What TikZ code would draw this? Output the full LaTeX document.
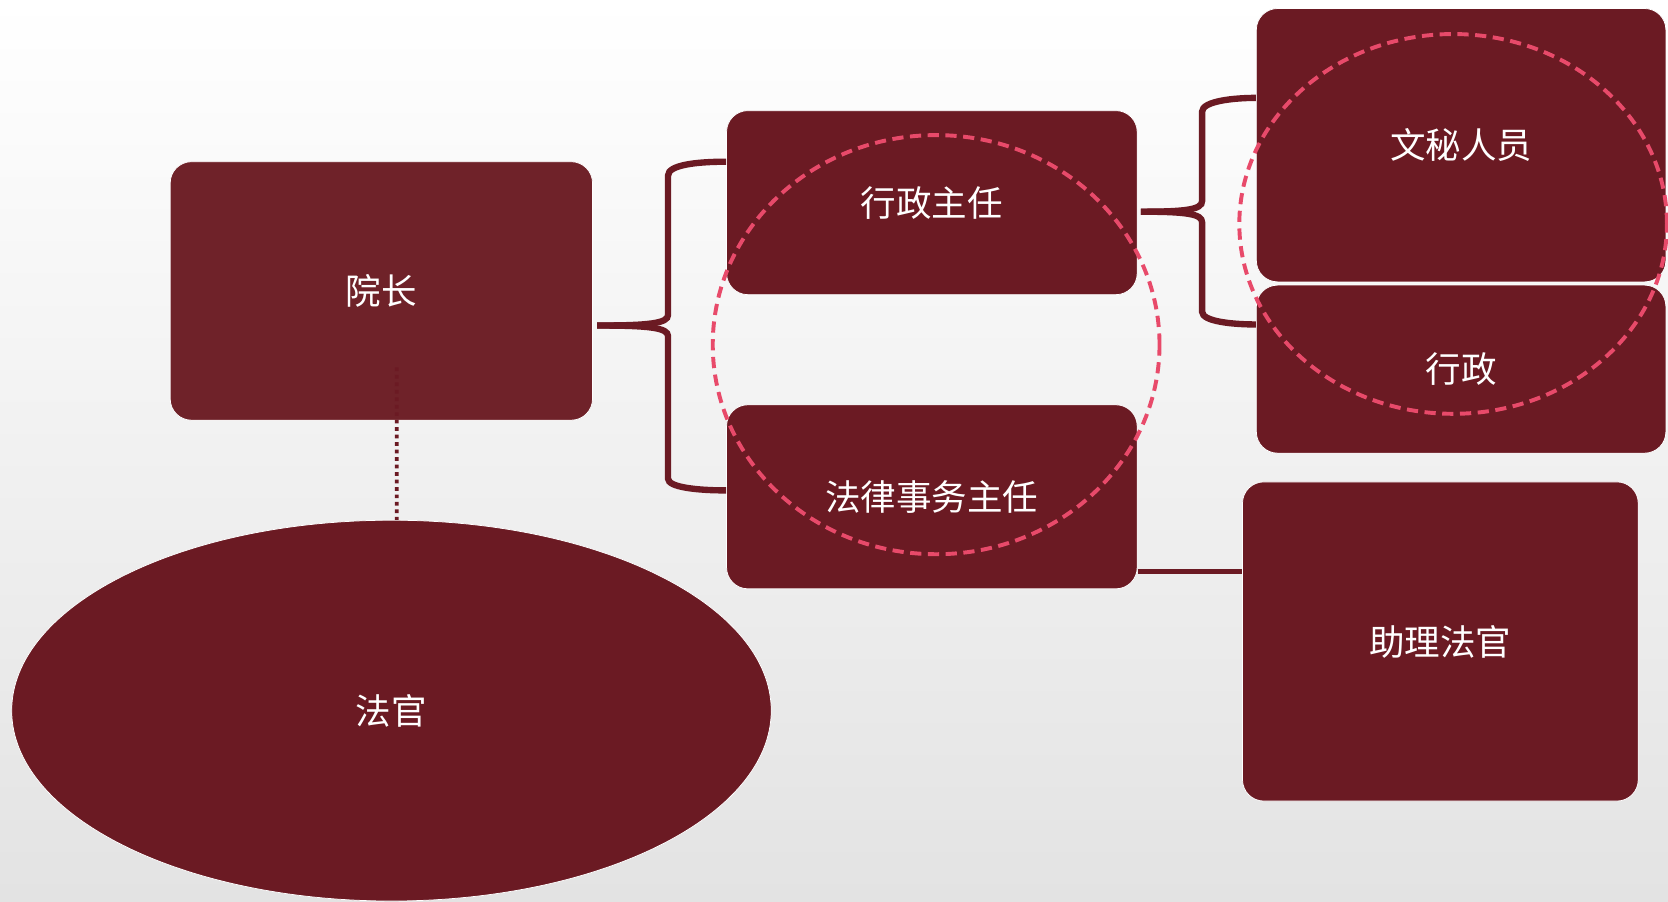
\documentclass[tikz,border=0pt]{standalone}
\usepackage{fontspec}
\newfontfamily\cjk{Noto Sans CJK SC}
\usetikzlibrary{shapes.geometric}
\definecolor{headred}{RGB}{111,34,41}
\definecolor{boxred}{RGB}{107,26,35}
\definecolor{ringpink}{RGB}{232,74,106}
\begin{document}
\begin{tikzpicture}[font=\cjk\fontsize{19}{23}\selectfont,
		box/.style={rectangle, rounded corners=0.4cm, draw=white, fill=boxred, text=white, align=center, inner sep=0pt},
		brace/.style={draw=boxred, line width=3.4pt},
		ring/.style={draw=ringpink, line width=2.1pt, dash pattern=on 6pt off 3.5pt}]
		% background
		\shade[top color=white, middle color=black!2, bottom color=black!11] (0,0) rectangle (31.36,-16.94);
		\useasboundingbox (0,0) rectangle (31.36,-16.94);
		\node[box, fill=headred, minimum width=7.94cm, minimum height=4.86cm] (yz) at (7.17,-5.47) {院长};
		\node[box, minimum width=7.72cm, minimum height=3.46cm] (xz) at (17.52,-3.81) {行政主任};
		\node[box, minimum width=7.72cm, minimum height=3.46cm] (fl) at (17.52,-9.34) {法律事务主任};
		\node[box, minimum width=7.70cm, minimum height=5.14cm] (wm) at (27.47,-2.73) {文秘人员};
		\node[box, minimum width=7.70cm, minimum height=3.16cm] (xzb) at (27.47,-6.94) {行政};
		\node[box, minimum width=7.44cm, minimum height=6.0cm] (zl) at (27.08,-12.06) {助理法官};
		\node[ellipse, draw=white, fill=boxred, text=white, inner sep=0pt, minimum width=14.28cm, minimum height=7.16cm] (fg) at (7.36,-13.36) {法官};
		% braces
		\draw[brace] ([xshift=0.08cm,yshift=-0.65cm]yz.east) .. controls (12.2,-6.12) and (12.56,-6.08) .. (12.56,-5.92) -- (12.56,-3.3) .. controls (12.56,-3.1) and (13.1,-3.04) .. ([yshift=0.77cm]xz.west);
		\draw[brace] ([xshift=0.08cm,yshift=-0.65cm]yz.east) .. controls (12.2,-6.12) and (12.56,-6.16) .. (12.56,-6.32) -- (12.56,-9.0) .. controls (12.56,-9.16) and (13.1,-9.22) .. ([yshift=0.12cm]fl.west);
		\draw[brace] ([xshift=0.06cm,yshift=-0.17cm]xz.east) .. controls (22.3,-3.98) and (22.6,-3.94) .. (22.6,-3.78) -- (22.6,-2.1) .. controls (22.6,-1.9) and (23.2,-1.84) .. ([yshift=0.89cm]wm.west);
		\draw[brace] ([xshift=0.06cm,yshift=-0.17cm]xz.east) .. controls (22.3,-3.98) and (22.6,-4.02) .. (22.6,-4.18) -- (22.6,-5.86) .. controls (22.6,-6.05) and (23.2,-6.1) .. ([yshift=0.84cm]xzb.west);
		% links
		\draw[boxred, line width=2pt, dash pattern=on 2pt off 2pt] ([xshift=0.29cm,yshift=1cm]yz.south) -- ([xshift=0.1cm]fg.north);
		\coordinate (fl-out) at ([yshift=-1.4cm]fl.east);
		\draw[boxred, line width=2.8pt] (fl-out) -- (fl-out -| zl.west);
		% dashed rings
		\draw[ring] (17.6,-6.48) ellipse (4.2 and 3.94);
		\draw[ring] (27.32,-4.21) ellipse (4.02 and 3.57);
	\end{tikzpicture}
\end{document}
